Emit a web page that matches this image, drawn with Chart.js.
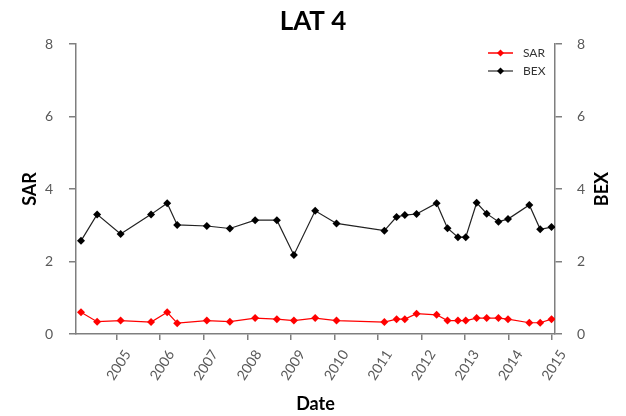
<!DOCTYPE html>
<html>
<head>
<meta charset="utf-8">
<script src="https://cdn.jsdelivr.net/npm/chart.js@4"></script>
<style>
  html, body { margin: 0; padding: 0; background: #fff; }
  canvas { display: block; }
</style>
</head>
<body>
<canvas id="chart" width="626" height="416"></canvas>
<script>
// sample dates as decimal years
const dates = [2004.18, 2004.55, 2005.09, 2005.79, 2006.16, 2006.39, 2007.07, 2007.60, 2008.18, 2008.68,
               2009.07, 2009.56, 2010.05, 2011.15, 2011.43, 2011.62, 2011.89, 2012.35, 2012.60, 2012.84,
               2013.02, 2013.27, 2013.50, 2013.77, 2013.99, 2014.48, 2014.73, 2014.99];
const sar = [0.60, 0.34, 0.37, 0.33, 0.60, 0.30, 0.37, 0.34, 0.44, 0.41,
             0.37, 0.44, 0.37, 0.33, 0.41, 0.41, 0.56, 0.53, 0.37, 0.37,
             0.37, 0.44, 0.44, 0.44, 0.41, 0.31, 0.31, 0.41];
const bex = [2.57, 3.30, 2.76, 3.30, 3.61, 3.01, 2.98, 2.91, 3.14, 3.14,
             2.18, 3.40, 3.05, 2.85, 3.23, 3.28, 3.31, 3.61, 2.92, 2.67,
             2.67, 3.62, 3.32, 3.10, 3.17, 3.56, 2.89, 2.95];
const yearTicks = [2005, 2006, 2007, 2008, 2009, 2010, 2011, 2012, 2013, 2014, 2015];

const FONT = 'Lato, "Open Sans", sans-serif';
const AXIS = '#7f7f7f';
const TEXT = '#595959';

const pts = arr => arr.map((v, i) => ({ x: dates[i], y: v }));

// legend drawn inside the plot, top right, line + diamond like the original
const innerLegend = {
    id: 'innerLegend',
    afterDraw(chart) {
        const { ctx, chartArea } = chart;
        const items = [{ label: 'SAR', color: '#ff0000' }, { label: 'BEX', color: '#000000' }];
        ctx.save();
        ctx.font = '12px ' + FONT;
        ctx.textBaseline = 'middle';
        items.forEach((it, i) => {
            const y = chartArea.top + 9 + i * 18;
            const x0 = chartArea.right - 67, x1 = chartArea.right - 42;
            ctx.strokeStyle = i === 0 ? it.color : '#555';
            ctx.lineWidth = 1.5;
            ctx.beginPath(); ctx.moveTo(x0, y); ctx.lineTo(x1, y); ctx.stroke();
            const cx = (x0 + x1) / 2, r = 3.5;
            ctx.fillStyle = it.color;
            ctx.beginPath();
            ctx.moveTo(cx, y - r); ctx.lineTo(cx + r, y); ctx.lineTo(cx, y + r); ctx.lineTo(cx - r, y);
            ctx.closePath(); ctx.fill();
            ctx.fillStyle = '#333';
            ctx.fillText(it.label, chartArea.right - 32, y);
        });
        ctx.restore();
    }
};

// right axis title reads bottom-to-top in the original
const rightTitle = {
    id: 'rightTitle',
    afterDraw(chart) {
        const { ctx, chartArea } = chart;
        ctx.save();
        ctx.font = 'bold 18px ' + FONT;
        ctx.fillStyle = '#000';
        ctx.textAlign = 'center';
        ctx.textBaseline = 'middle';
        ctx.translate(chart.width - 24, (chartArea.top + chartArea.bottom) / 2);
        ctx.rotate(-Math.PI / 2);
        ctx.fillText('BEX', 0, 0);
        ctx.restore();
    }
};

new Chart(document.getElementById('chart'), {
    type: 'line',
    data: {
        datasets: [
            { label: 'SAR', data: pts(sar), yAxisID: 'y', borderColor: '#ff0000', backgroundColor: '#ff0000',
              borderWidth: 1.2, pointStyle: 'rectRot', pointRadius: 4, pointBorderWidth: 0, tension: 0 },
            { label: 'BEX', data: pts(bex), yAxisID: 'y1', borderColor: '#222', backgroundColor: '#000',
              borderWidth: 1.2, pointStyle: 'rectRot', pointRadius: 4, pointBorderWidth: 0, tension: 0 }
        ]
    },
    options: {
        responsive: false,
        animation: false,
        layout: { padding: 0 },
        plugins: {
            legend: { display: false },
            tooltip: { enabled: false },
            title: { display: true, text: 'LAT 4', color: '#000', font: { family: FONT, size: 26, weight: 'bold' },
                     padding: { top: 6, bottom: 6.8 } }
        },
        scales: {
            x: {
                type: 'linear', min: 2004.065, max: 2015.07,
                afterFit: s => { s.height = 82; },
                afterBuildTicks: s => { s.ticks = yearTicks.map(v => ({ value: v })); },
                border: { display: true, color: AXIS, width: 1.5 },
                grid: { drawOnChartArea: false, drawTicks: true, tickLength: 6, color: AXIS, lineWidth: 1.5 },
                ticks: { color: TEXT, font: { family: FONT, size: 14 }, minRotation: 57, maxRotation: 57, padding: 7,
                         labelOffset: 11, callback: v => String(v) },
                title: { display: true, text: 'Date', color: '#000', font: { family: FONT, size: 18, weight: 'bold' },
                         padding: { top: 0, bottom: 1 } }
            },
            y: {
                position: 'left', min: 0, max: 8,
                afterFit: s => { s.width = 76; },
                border: { display: true, color: AXIS, width: 1.5 },
                grid: { drawOnChartArea: false, drawTicks: true, tickLength: 7, color: AXIS, lineWidth: 1.5 },
                ticks: { stepSize: 2, color: TEXT, font: { family: FONT, size: 14 }, padding: 16 },
                title: { display: true, text: 'SAR', color: '#000', font: { family: FONT, size: 18, weight: 'bold' },
                         padding: { top: 19, bottom: 0 } }
            },
            y1: {
                position: 'right', min: 0, max: 8,
                afterFit: s => { s.width = 71; },
                border: { display: true, color: AXIS, width: 1.5 },
                grid: { drawOnChartArea: false, drawTicks: true, tickLength: 7, color: AXIS, lineWidth: 1.5 },
                ticks: { stepSize: 2, color: TEXT, font: { family: FONT, size: 14 }, padding: 15 }
            }
        }
    },
    plugins: [innerLegend, rightTitle]
});
</script>
</body>
</html>
